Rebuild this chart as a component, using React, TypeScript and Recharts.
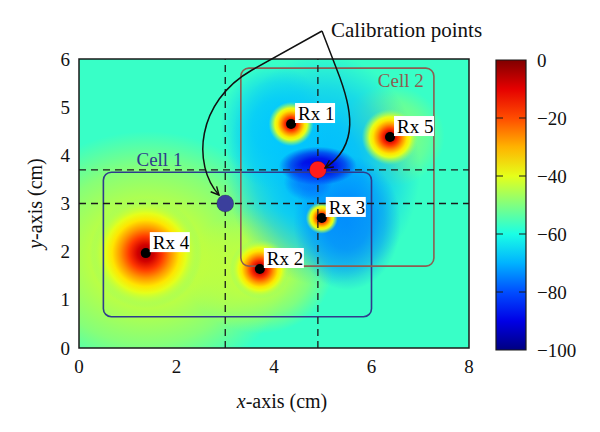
import { ScatterChart, Scatter, XAxis, YAxis, ReferenceArea, ReferenceLine, ReferenceDot, BarChart, Bar } from "recharts";

const FONT = "'Liberation Serif', 'DejaVu Serif', serif";

const xTicks = [0, 2, 4, 6, 8];
const yTicks = [0, 1, 2, 3, 4, 5, 6];
const barTicks = [0, -20, -40, -60, -80, -100];
const barInnerTicks = [-20, -40, -60, -80];
const barRange = [-100, 0];

// receivers, position in cm and radius of the hot spot
const rxNames = ["Rx 1", "Rx 2", "Rx 3", "Rx 4", "Rx 5"];
const rxX = [4.35, 3.71, 4.98, 1.37, 6.38];
const rxY = [4.65, 1.64, 2.7, 1.97, 4.38];
const rxSpread = [0.46, 0.62, 0.33, 1.15, 0.58];

// calibration points
const calX = [3.0, 4.9];
const calY = [3.0, 3.7];
const calColors = ["#3b3f9c", "#ff1c1c"];

// broad areas of the field (dB), drawn as soft ellipses
const baseLevel = -57;
const fieldX = [1.4, 3.7, 6.4, 5.0, 4.0, 5.5, 4.9, 4.7];
const fieldY = [1.9, 1.6, 4.4, 3.7, 4.6, 2.6, 3.78, 3.45];
const fieldRx = [3.0, 1.5, 1.1, 2.0, 1.1, 1.1, 0.8, 0.5];
const fieldRy = [2.6, 1.3, 1.05, 2.4, 1.3, 1.4, 0.4, 0.4];
const fieldLevel = [-43, -43, -48, -69, -68, -75, -90, -80];
const fieldAlpha = [1.0, 0.9, 0.8, 1.0, 0.85, 0.8, 1.0, 0.55];

// cells
const cellNames = ["Cell 1", "Cell 2"];
const cellX1 = [0.5, 3.32];
const cellX2 = [6.0, 7.28];
const cellY1 = [0.65, 1.7];
const cellY2 = [3.65, 5.81];
const cellColors = ["#2f3b8c", "#8c5e52"];
const cellLabelX = [1.65, 6.6];
const cellLabelY = [3.93, 5.56];

// dashed guides through the calibration points
const guideX = [3.0, 4.9];
const guideY = [3.0, 3.7];

const rxData = rxNames.map((name, i) => ({ name, x: rxX[i], y: rxY[i] }));
const calData = calX.map((x, i) => ({ x, y: calY[i], color: calColors[i] }));
const barData = [{ name: "dB", range: barRange }];

function jet(v: number) {
  const t = (v + 100) / 100;
  const c = (a: number) => Math.round(255 * Math.max(0, Math.min(1, a)));
  return `rgb(${c(1.5 - Math.abs(4 * t - 3))},${c(1.5 - Math.abs(4 * t - 2))},${c(1.5 - Math.abs(4 * t - 1))})`;
}

const blobStops: [number, number, number][] = [
  [0, -2, 1],
  [0.15, -8, 1],
  [0.3, -18, 1],
  [0.45, -27, 1],
  [0.6, -35, 1],
  [0.72, -40, 1],
  [0.86, -45, 0.55],
  [1, -50, 0],
];
const softStops: [number, number][] = [
  [0, 1],
  [0.4, 0.9],
  [0.7, 0.55],
  [0.9, 0.18],
  [1, 0],
];

const RxMark = (p: any) => {
  const { cx, cy, payload } = p;
  return (
    <g>
      <circle cx={cx} cy={cy} r={5} fill="#000" />
      <rect x={cx + 4} y={cy - 21} width={40} height={20} fill="#fff" />
      <text x={cx + 7} y={cy - 4} fontSize={19} fontFamily={FONT} fill="#000">
        {payload.name}
      </text>
    </g>
  );
};

const CalMark = (p: any) => (
  <circle cx={p.cx} cy={p.cy} r={8.5} fill={p.payload.color} stroke="rgba(0,0,0,0.25)" strokeWidth={0.8} />
);

const cellShape = (color: string) => (p: any) => (
  <rect x={p.x} y={p.y} width={p.width} height={p.height} rx={8} fill="none" stroke={color} strokeWidth={1.6} />
);

const XTick = ({ x, y, payload }: any) => (
  <text x={x} y={y + 25} textAnchor="middle" fontSize={19} fontFamily={FONT} fill="#111">
    {payload.value}
  </text>
);
const YTick = ({ x, y, payload }: any) => (
  <text x={x - 9} y={y + 6.5} textAnchor="end" fontSize={19} fontFamily={FONT} fill="#111">
    {payload.value}
  </text>
);
const BarTick = ({ x, y, payload }: any) => (
  <text x={x + 11} y={y + 6.5} textAnchor="start" fontSize={19} fontFamily={FONT} fill="#111">
    {String(payload.value).replace("-", "\u2212")}
  </text>
);

const XTitle = ({ viewBox }: any) => (
  <text x={viewBox.x + viewBox.width / 2 + 8} y={viewBox.y + 60} textAnchor="middle" fontSize={20} fontFamily={FONT} fill="#111">
    <tspan fontStyle="italic">x</tspan>-axis (cm)
  </text>
);
const YTitle = ({ viewBox }: any) => {
  const cx = 35;
  const cy = viewBox.y + viewBox.height / 2;
  return (
    <text x={cx} y={cy} transform={`rotate(-90 ${cx} ${cy})`} textAnchor="middle" dominantBaseline="central" fontSize={20} fontFamily={FONT} fill="#111">
      <tspan fontStyle="italic">y</tspan>-axis (cm)
    </text>
  );
};

const cellLabel = (i: number) => (p: any) => (
  <text x={p.viewBox.x} y={p.viewBox.y + 7} textAnchor="middle" fontSize={19} fontFamily={FONT} fill={cellColors[i]}>
    {cellNames[i]}
  </text>
);

export default function App() {
  return (
    <div style={{ position: "absolute", left: 0, top: 0, width: 600, height: 432, background: "#fff" }}>
      <svg width={0} height={0} style={{ position: "absolute" }}>
        <defs>
          {fieldLevel.map((lv, i) => (
            <radialGradient key={i} id={`field${i}`} cx="0.5" cy="0.5" r="0.5">
              {softStops.map(([o, a], k) => (
                <stop key={k} offset={o} stopColor={jet(lv)} stopOpacity={a * fieldAlpha[i]} />
              ))}
            </radialGradient>
          ))}
          <radialGradient id="blob" cx="0.5" cy="0.5" r="0.5">
            {blobStops.map(([o, v, a], k) => (
              <stop key={k} offset={o} stopColor={jet(v)} stopOpacity={a} />
            ))}
          </radialGradient>
          <linearGradient id="jetbar" x1="0" y1="1" x2="0" y2="0">
            {[-100, -90, -80, -70, -60, -50, -40, -30, -20, -10, 0].map((v) => (
              <stop key={v} offset={(v + 100) / 100} stopColor={jet(v)} />
            ))}
          </linearGradient>
        </defs>
      </svg>

      <div style={{ position: "absolute", left: 0, top: 0 }}>
        <ScatterChart width={600} height={432} margin={{ top: 59, right: 131, bottom: 54, left: 39 }}>
          <XAxis
            type="number"
            dataKey="x"
            domain={[0, 8]}
            ticks={xTicks}
            height={30}
            axisLine={false}
            tickLine={false}
            tickSize={0}
            tickMargin={0}
            tick={<XTick />}
            label={{ content: <XTitle /> }}
          />
          <YAxis
            type="number"
            dataKey="y"
            domain={[0, 6]}
            ticks={yTicks}
            width={40}
            axisLine={false}
            tickLine={false}
            tickSize={0}
            tickMargin={0}
            tick={<YTick />}
            label={{ content: <YTitle /> }}
          />
          <ReferenceArea x1={0} x2={8} y1={0} y2={6} fill={jet(baseLevel)} fillOpacity={1} stroke="none" ifOverflow="hidden" />
          {fieldX.map((fx, i) => (
            <ReferenceArea
              key={`f${i}`}
              x1={fx - fieldRx[i]}
              x2={fx + fieldRx[i]}
              y1={fieldY[i] - fieldRy[i]}
              y2={fieldY[i] + fieldRy[i]}
              fill={`url(#field${i})`}
              fillOpacity={1}
              stroke="none"
              ifOverflow="hidden"
            />
          ))}
          {rxX.map((rx, i) => (
            <ReferenceArea
              key={`b${i}`}
              x1={rx - rxSpread[i]}
              x2={rx + rxSpread[i]}
              y1={rxY[i] - rxSpread[i]}
              y2={rxY[i] + rxSpread[i]}
              fill="url(#blob)"
              fillOpacity={1}
              stroke="none"
              ifOverflow="hidden"
            />
          ))}
          {cellNames.map((c, i) => (
            <ReferenceArea
              key={c}
              x1={cellX1[i]}
              x2={cellX2[i]}
              y1={cellY1[i]}
              y2={cellY2[i]}
              shape={cellShape(cellColors[i])}
              ifOverflow="visible"
            />
          ))}
          {guideX.map((g) => (
            <ReferenceLine key={`gx${g}`} x={g} stroke="#1a1a1a" strokeWidth={1.3} strokeDasharray="7 5" />
          ))}
          {guideY.map((g) => (
            <ReferenceLine key={`gy${g}`} y={g} stroke="#1a1a1a" strokeWidth={1.3} strokeDasharray="7 5" />
          ))}
          <ReferenceArea x1={0} x2={8} y1={0} y2={6} fill="none" stroke="#1a1a1a" strokeWidth={1.5} ifOverflow="visible" />
          {cellNames.map((c, i) => (
            <ReferenceDot key={`l${c}`} x={cellLabelX[i]} y={cellLabelY[i]} r={0} fill="none" stroke="none" label={{ content: cellLabel(i) }} />
          ))}
          <Scatter data={rxData} shape={<RxMark />} isAnimationActive={false} />
          <Scatter data={calData} shape={<CalMark />} isAnimationActive={false} />
        </ScatterChart>
      </div>

      <div style={{ position: "absolute", left: 0, top: 0 }}>
        <BarChart width={600} height={432} data={barData} barCategoryGap={0} margin={{ top: 60, right: 14, bottom: 82, left: 496 }}>
          <XAxis dataKey="name" type="category" hide />
          <YAxis
            type="number"
            orientation="right"
            domain={[-100, 0]}
            ticks={barTicks}
            width={60}
            axisLine={false}
            tickLine={false}
            tickSize={0}
            tickMargin={0}
            tick={<BarTick />}
          />
          <Bar dataKey="range" fill="url(#jetbar)" stroke="#1a1a1a" strokeWidth={1.2} isAnimationActive={false} />
          {barInnerTicks.map((v) => (
            <ReferenceLine key={`a${v}`} y={v} stroke="#1a1a1a" strokeWidth={1.2} strokeDasharray="7 16 7" />
          ))}
        </BarChart>
      </div>

      <svg width={600} height={432} style={{ position: "absolute", left: 0, top: 0, pointerEvents: "none" }}>
        <defs>
          <marker id="head" viewBox="0 0 10 10" refX="9" refY="5" markerWidth="10" markerHeight="10" markerUnits="userSpaceOnUse" orient="auto">
            <path d="M1,1 L9,5 L1,9" fill="none" stroke="#111" strokeWidth={1.4} />
          </marker>
        </defs>
        <path d="M322,31 L252,70 C196,102 192,165 219,195" fill="none" stroke="#111" strokeWidth={1.5} markerEnd="url(#head)" />
        <path d="M322,31 L337,70 C352,108 360,145 325,168" fill="none" stroke="#111" strokeWidth={1.5} markerEnd="url(#head)" />
        <text x={331} y={37} fontSize={21} fontFamily={FONT} fill="#111">
          Calibration points
        </text>
      </svg>
    </div>
  );
}
